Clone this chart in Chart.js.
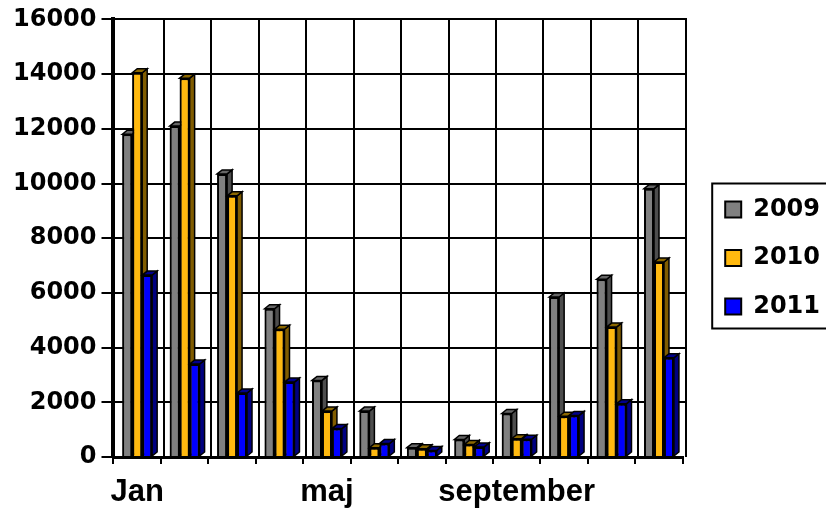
<!DOCTYPE html>
<html>
<head>
<meta charset="utf-8">
<script src="https://cdn.jsdelivr.net/npm/chart.js@4.4.1/dist/chart.umd.min.js"></script>
<style>
  html, body { margin: 0; padding: 0; background: #fff; }
  #wrap { width: 826px; height: 511px; }
</style>
</head>
<body>
<div id="wrap"><canvas id="c" width="826" height="511"></canvas></div>
<script>
// Monthly totals per year
const months = ['Jan', 'feb', 'mar', 'apr', 'maj', 'jun', 'jul', 'aug', 'september', 'okt', 'nov', 'dec'];
const years = ['2009', '2010', '2011'];
const values2009 = [11800, 12100, 10350, 5420, 2800, 1680, 340, 640, 1590, 5850, 6500, 9810];
const values2010 = [14050, 13850, 9550, 4670, 1680, 340, 300, 460, 670, 1490, 4750, 7130];
const values2011 = [6650, 3400, 2340, 2740, 1040, 490, 240, 370, 650, 1520, 1950, 3630];
const yMin = 0, yMax = 16000, yStep = 2000;

// Fill colours and the darker shades used for the extruded faces
const fills = ['#808080', '#ffb90f', '#0000ff'];
const shades = [
  { side: '#4d4d4d', top: '#666666' },
  { side: '#805c00', top: '#8c6800' },
  { side: '#000080', top: '#00008c' }
];

const WALL_DX = 3;            // back wall shift
const BAR_DX = 5, BAR_DY = 4; // bar depth

// Grid drawn on the back wall, slightly offset from the front axes
const backWall = {
  id: 'backWall',
  beforeDatasetsDraw(chart) {
    const { ctx, chartArea: a, scales: { x, y } } = chart;
    const topPx = Math.round(y.getPixelForValue(y.max));
    ctx.save();
    ctx.strokeStyle = '#000';
    ctx.lineWidth = 2;
    ctx.beginPath();
    y.ticks.forEach(t => {
      if (t.value === y.min) return;
      const py = Math.round(y.getPixelForValue(t.value));
      ctx.moveTo(a.left, py);
      ctx.lineTo(a.right + WALL_DX + 1, py);
    });
    for (let i = 1; i <= chart.data.labels.length; i++) {
      const px = Math.round(x.getPixelForValue(i - 0.5)) + WALL_DX;
      ctx.moveTo(px, topPx - 1);
      ctx.lineTo(px, a.bottom);
    }
    ctx.stroke();
    ctx.restore();
  }
};

// Side and top faces for each bar, painted left to right inside every group
const bars3d = {
  id: 'bars3d',
  afterDatasetsDraw(chart) {
    const ctx = chart.ctx;
    const metas = chart.data.datasets.map((d, i) => chart.getDatasetMeta(i));
    const n = chart.data.labels.length;
    ctx.save();
    ctx.strokeStyle = '#000';
    ctx.lineWidth = 1.5;
    ctx.lineJoin = 'miter';
    for (let j = 0; j < n; j++) {
      metas.forEach((meta, k) => {
        const bar = meta.data[j];
        if (!bar) return;
        const { x, y, base, width } = bar.getProps(['x', 'y', 'base', 'width'], true);
        const l = x - width / 2, r = x + width / 2;
        ctx.fillStyle = shades[k].side;
        ctx.beginPath();
        ctx.moveTo(r, y);
        ctx.lineTo(r + BAR_DX, y - BAR_DY);
        ctx.lineTo(r + BAR_DX, base - BAR_DY);
        ctx.lineTo(r, base);
        ctx.closePath();
        ctx.fill();
        ctx.stroke();
        ctx.fillStyle = shades[k].top;
        ctx.beginPath();
        ctx.moveTo(l, y);
        ctx.lineTo(l + BAR_DX, y - BAR_DY);
        ctx.lineTo(r + BAR_DX, y - BAR_DY);
        ctx.lineTo(r, y);
        ctx.closePath();
        ctx.fill();
        ctx.stroke();
        bar.draw(ctx);
      });
    }
    ctx.restore();
  }
};

// Frame around the legend
const legendFrame = {
  id: 'legendFrame',
  afterDraw(chart) {
    const lg = chart.legend;
    if (!lg || !lg.legendHitBoxes || !lg.legendHitBoxes.length) return;
    const hb = lg.legendHitBoxes;
    const first = hb[0], last = hb[hb.length - 1];
    const left = first.left - 13;
    const top = first.top - 14;
    const bottom = last.top + last.height + 10;
    const ctx = chart.ctx;
    ctx.save();
    ctx.strokeStyle = '#000';
    ctx.lineWidth = 2;
    ctx.strokeRect(left, top, chart.width - left + 10, bottom - top);
    ctx.restore();
  }
};

const seriesValues = [values2009, values2010, values2011];

new Chart(document.getElementById('c'), {
  type: 'bar',
  data: {
    labels: months,
    datasets: years.map((yr, i) => ({
      label: yr,
      data: seriesValues[i],
      backgroundColor: fills[i],
      borderColor: '#000',
      borderWidth: 2,
      categoryPercentage: 0.63,
      barPercentage: 1.0
    }))
  },
  options: {
    responsive: false,
    animation: false,
    devicePixelRatio: 1,
    layout: { padding: { left: 8, right: -4, top: 5, bottom: 0 } },
    plugins: {
      tooltip: { enabled: false },
      legend: {
        position: 'right',
        align: 'center',
        labels: {
          color: '#000',
          boxWidth: 16,
          boxHeight: 16,
          padding: 24.5,
          font: { family: 'DejaVu Sans', weight: 'bold', size: 24 }
        }
      }
    },
    scales: {
      x: {
        grid: {
          drawOnChartArea: false,
          drawTicks: true,
          tickLength: 7,
          color: '#000',
          lineWidth: 2
        },
        border: { display: true, color: '#000', width: 3 },
        ticks: {
          autoSkip: false,
          maxRotation: 0,
          minRotation: 0,
          padding: 10,
          color: '#000',
          font: { family: 'Liberation Sans', weight: 'bold', size: 31 },
          callback: function (value, index) {
            return index % 4 === 0 ? this.getLabelForValue(value) : '';
          }
        },
        afterFit: (scale) => { scale.height = 54; }
      },
      y: {
        min: yMin,
        max: yMax,
        grid: {
          drawOnChartArea: false,
          drawTicks: true,
          tickLength: 12,
          color: '#000',
          lineWidth: 2
        },
        border: { display: true, color: '#000', width: 4 },
        ticks: {
          stepSize: yStep,
          padding: 5,
          color: '#000',
          font: { family: 'DejaVu Sans', weight: 'bold', size: 24 },
          callback: (value) => String(value)
        }
      },
      // empty strip that keeps the plot clear of the legend
      gap: {
        type: 'linear',
        position: 'right',
        display: true,
        grid: { display: false },
        border: { display: false },
        ticks: { display: false },
        afterFit: (scale) => { scale.width = 18; }
      }
    }
  },
  plugins: [backWall, bars3d, legendFrame]
});
</script>
</body>
</html>
